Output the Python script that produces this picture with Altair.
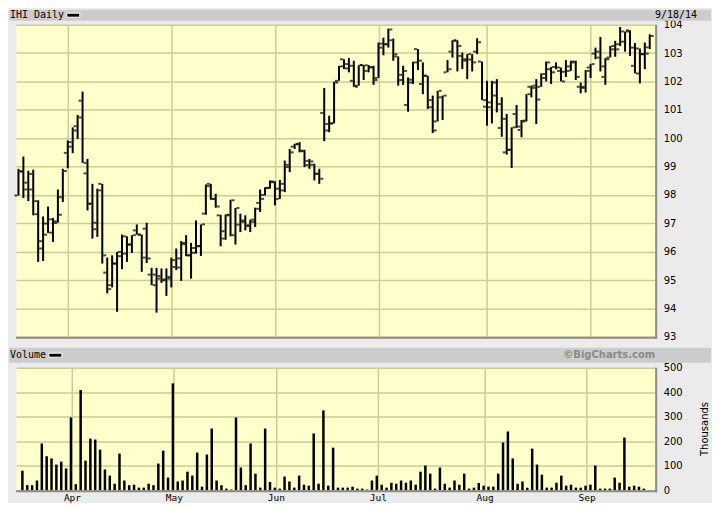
import altair as alt
import pandas as pd

# ---- data ----
opens = [97.98, 98.84, 98.19, 98.74, 97.78, 96.37, 96.99, 97.14, 97.07, 97.92,
         99.48, 99.86, 100.42, 101.32, 98.76, 97.69, 96.79, 98.39, 95.26, 94.82,
         95.58, 95.99, 95.93, 96.25, 96.75, 96.60, 96.81, 95.19, 95.19, 95.05,
         94.99, 95.11, 95.70, 95.44, 96.31, 95.87, 95.96, 96.19, 97.34, 98.39,
         97.86, 97.28, 96.72, 97.28, 96.58, 96.95, 97.10, 96.93, 97.13, 97.72,
         98.00, 98.24, 98.47, 97.86, 98.16, 98.98, 99.70, 99.78, 99.56, 99.20,
         99.06, 98.74, 100.89, 100.50, 100.52, 102.02, 102.78, 102.61, 102.02, 101.85,
         102.58, 102.37, 102.49, 102.12, 103.19, 103.31, 103.45, 102.88, 102.23, 101.17,
         101.96, 103.14, 101.91, 102.20, 101.09, 100.59, 101.44, 102.32, 103.05, 103.45,
         102.90, 102.73, 102.96, 103.05, 102.70, 101.11, 101.26, 101.50, 100.36, 99.50,
         99.59, 100.85, 100.29, 100.59, 101.81, 101.85, 101.81, 102.12, 102.43, 102.51,
         102.37, 102.34, 102.53, 102.70, 101.81, 101.77, 102.49, 102.98, 103.05, 102.16,
         102.84, 103.13, 103.31, 103.40, 103.80, 102.55, 103.16, 102.96, 103.20]
highs = [98.92, 99.35, 98.85, 98.89, 97.81, 97.24, 97.59, 97.19, 98.19, 98.92,
         99.92, 100.38, 100.82, 101.64, 99.27, 98.39, 98.22, 98.39, 95.79, 95.87,
         95.99, 96.60, 96.54, 96.58, 96.96, 96.60, 97.02, 95.43, 95.43, 95.41,
         95.41, 95.79, 96.11, 96.37, 96.58, 96.31, 97.10, 96.96, 98.37, 98.39,
         98.04, 97.30, 97.31, 97.83, 97.54, 97.34, 97.28, 97.13, 97.55, 98.19,
         98.27, 98.51, 98.48, 98.53, 99.21, 99.62, 99.80, 99.86, 99.59, 99.27,
         99.10, 98.92, 101.77, 100.79, 101.99, 102.55, 102.78, 102.82, 102.73, 102.57,
         102.58, 102.58, 102.55, 103.37, 103.54, 103.86, 103.51, 102.88, 102.55, 102.14,
         102.69, 103.14, 102.67, 102.20, 101.50, 101.67, 101.50, 102.75, 103.45, 103.45,
         103.02, 102.96, 102.96, 103.52, 102.70, 102.02, 102.02, 102.08, 101.44, 100.85,
         100.38, 101.17, 100.64, 101.55, 101.85, 102.08, 102.28, 102.70, 102.51, 102.67,
         102.49, 102.75, 102.73, 102.73, 101.96, 102.40, 102.61, 103.19, 103.57, 102.82,
         103.25, 103.43, 103.92, 103.76, 103.80, 103.35, 103.16, 103.37, 103.66]
lows = [97.98, 97.89, 97.78, 97.28, 95.64, 95.67, 96.66, 96.34, 97.02, 97.75,
        98.94, 99.47, 99.97, 99.13, 97.45, 96.46, 96.52, 95.58, 94.53, 94.74,
        93.88, 95.38, 95.64, 95.95, 96.60, 95.29, 95.60, 94.82, 93.85, 94.90,
        94.44, 94.74, 95.35, 94.97, 95.84, 95.05, 95.93, 95.85, 97.30, 97.83,
        97.55, 96.19, 96.42, 96.54, 96.25, 96.69, 96.75, 96.69, 96.87, 97.40,
        97.98, 98.22, 97.63, 97.86, 98.10, 98.80, 99.62, 99.50, 98.98, 98.92,
        98.51, 98.39, 99.89, 100.21, 100.52, 102.02, 102.43, 102.32, 101.81, 101.85,
        102.05, 102.32, 101.88, 102.12, 102.92, 103.19, 102.73, 101.85, 101.87, 100.93,
        101.91, 102.40, 101.55, 101.03, 100.18, 100.59, 100.64, 102.32, 102.84, 102.35,
        102.43, 102.08, 102.35, 102.96, 101.34, 100.44, 100.52, 100.91, 100.05, 99.42,
        98.95, 100.36, 100.03, 100.59, 101.44, 100.50, 101.81, 102.00, 101.91, 102.43,
        102.00, 102.16, 102.37, 102.05, 101.58, 101.61, 102.12, 102.78, 102.35, 101.88,
        102.84, 102.87, 103.25, 103.05, 102.90, 102.28, 101.93, 102.43, 103.14]
closes = [98.82, 98.43, 98.19, 97.32, 96.11, 96.60, 96.67, 97.01, 97.30, 98.84,
          99.70, 100.27, 100.73, 99.13, 97.69, 97.02, 98.16, 95.87, 94.68, 95.58,
          95.84, 96.54, 96.25, 96.58, 96.60, 95.79, 95.76, 94.82, 95.14, 95.02,
          95.05, 95.46, 95.76, 96.26, 95.87, 96.13, 96.20, 96.96, 98.31, 97.86,
          97.59, 96.46, 97.30, 97.81, 97.54, 97.05, 96.90, 97.05, 97.51, 97.86,
          98.25, 98.45, 98.22, 98.39, 99.06, 99.50, 99.80, 99.54, 99.05, 99.18,
          98.75, 98.57, 100.27, 100.52, 101.96, 102.53, 102.46, 102.55, 101.81, 102.57,
          102.57, 102.51, 102.05, 103.33, 103.31, 103.83, 102.96, 102.05, 102.37, 102.06,
          102.67, 102.73, 102.20, 101.34, 100.27, 101.67, 101.50, 102.43, 103.43, 103.25,
          102.78, 102.77, 102.67, 103.38, 101.34, 101.09, 101.96, 101.20, 100.68, 99.59,
          100.38, 100.41, 100.62, 101.55, 101.77, 101.36, 102.26, 102.67, 102.32, 102.49,
          102.00, 102.37, 102.67, 102.16, 101.81, 102.37, 102.61, 102.84, 102.53, 102.78,
          103.25, 103.13, 103.76, 103.76, 103.19, 102.28, 102.96, 102.98, 103.60]
volumes = [80, 21, 21, 40, 191, 139, 130, 105, 117, 89,
           297, 25, 409, 121, 211, 207, 166, 85, 60, 27,
           150, 40, 21, 23, 11, 11, 27, 21, 109, 162,
           52, 436, 36, 40, 76, 60, 154, 15, 146, 252,
           40, 21, 7, 3, 297, 93, 21, 191, 68, 11,
           252, 34, 11, 7, 56, 36, 11, 60, 23, 19,
           232, 27, 326, 19, 174, 11, 11, 11, 15, 7,
           7, 3, 40, 60, 23, 11, 31, 27, 40, 31,
           40, 23, 76, 101, 68, 7, 93, 27, 11, 40,
           23, 68, 7, 11, 30, 19, 15, 15, 68, 195,
           240, 130, 27, 36, 11, 170, 105, 64, 11, 11,
           31, 60, 19, 23, 11, 11, 19, 23, 101, 7,
           7, 7, 52, 31, 215, 15, 19, 15, 7]

month_idx = [10, 31, 52, 73, 95, 116]
month_names = ["Apr", "May", "Jun", "Jul", "Aug", "Sep"]
price_ticks = [93, 94, 95, 96, 97, 98, 99, 100, 101, 102, 103, 104]
vol_ticks = [0, 100, 200, 300, 400, 500]

# ---- layout ----
W = 641
HP = 313
HV = 123
RIGHT = W + 56          # right edge of the gray frame (keeps page inside 704px)
BG = "#ebebeb"
BAND = "#cccccc"
MONO = "DejaVu Sans Mono"
SANS = "DejaVu Sans"

df = pd.DataFrame({
    "i": list(range(len(opens))),
    "open": opens, "high": highs, "low": lows, "close": closes, "vol": volumes,
})
one = pd.DataFrame({"a": [0]})

xscale = alt.Scale(domain=[-0.5, 129.1], nice=False, zero=False)
pscale = alt.Scale(domain=[93, 104], nice=False, zero=False)
label_expr = " : ".join(
    f"datum.value == {v} ? '{n}'" for v, n in zip(month_idx, month_names)
) + " : ''"

grid_axis_x = alt.Axis(values=month_idx, labels=False, ticks=False, domain=False,
                       grid=True, title=None)
price_axis = alt.Axis(orient="right", values=price_ticks, ticks=False, domain=False,
                      grid=True, title=None, labelFont=SANS, labelFontSize=10,
                      labelColor="black", labelPadding=8, labelOverlap=False,
                      labelBound=False, labelFlush=False, tickCount=12)

# ---------- price panel ----------
band1 = alt.Chart(one).mark_rect(color=BAND).encode(
    x=alt.value(-7), x2=alt.value(RIGHT), y=alt.value(-15), y2=alt.value(-4))
title_txt = alt.Chart(one).mark_text(text="IHI Daily", align="left", baseline="middle",
                                     font=MONO, fontSize=10, color="black").encode(
    x=alt.value(-6), y=alt.value(-9.5))
swatch1 = alt.Chart(one).mark_rect(color="black", stroke="white", strokeWidth=1).encode(
    x=alt.value(51), x2=alt.value(64), y=alt.value(-11.5), y2=alt.value(-7.5))
date_txt = alt.Chart(one).mark_text(text="9/18/14", align="right", baseline="middle",
                                    font=MONO, fontSize=10, color="black").encode(
    x=alt.value(W + 42), y=alt.value(-9.5))

hl = alt.Chart(df).mark_rule(color="black", strokeWidth=2).encode(
    x=alt.X("i:Q", scale=xscale, axis=grid_axis_x),
    y=alt.Y("low:Q", scale=pscale, axis=price_axis),
    y2="high:Q",
)
open_t = alt.Chart(df).mark_tick(color="black", orient="horizontal", size=3,
                                 thickness=2, xOffset=-2.5).encode(
    x=alt.X("i:Q", scale=xscale, axis=grid_axis_x),
    y=alt.Y("open:Q", scale=pscale, axis=price_axis))
close_t = alt.Chart(df).mark_tick(color="black", orient="horizontal", size=3,
                                  thickness=2, xOffset=2.5).encode(
    x=alt.X("i:Q", scale=xscale, axis=grid_axis_x),
    y=alt.Y("close:Q", scale=pscale, axis=price_axis))

edge_b1 = alt.Chart(one).mark_rule(color="#8c8c8c", strokeWidth=2).encode(
    x=alt.value(0), x2=alt.value(W + 2), y=alt.value(HP + 1))
edge_r1 = alt.Chart(one).mark_rule(color="#8c8c8c", strokeWidth=2).encode(
    x=alt.value(W + 1), y=alt.value(0), y2=alt.value(HP + 2))

price = alt.layer(band1, hl, open_t, close_t, edge_b1, edge_r1,
                  title_txt, swatch1, date_txt).properties(width=W, height=HP)

# ---------- volume panel ----------
band2 = alt.Chart(one).mark_rect(color=BAND).encode(
    x=alt.value(-7), x2=alt.value(RIGHT), y=alt.value(-20), y2=alt.value(-5))
vol_txt = alt.Chart(one).mark_text(text="Volume", align="left", baseline="middle",
                                   font=MONO, fontSize=10, color="black").encode(
    x=alt.value(-6), y=alt.value(-12.5))
swatch2 = alt.Chart(one).mark_rect(color="black", stroke="white", strokeWidth=1).encode(
    x=alt.value(33), x2=alt.value(46), y=alt.value(-14.5), y2=alt.value(-10.5))
credit = alt.Chart(one).mark_text(text="\u00a9BigCharts.com", align="right",
                                  baseline="middle", font=SANS, fontSize=10,
                                  fontWeight="bold", color="#8a8a8a").encode(
    x=alt.value(W), y=alt.value(-12.5))
thousands = alt.Chart(one).mark_text(text="Thousands", angle=270, align="center",
                                     baseline="middle", font=SANS, fontSize=10,
                                     color="black").encode(
    x=alt.value(W + 50), y=alt.value(HV / 2))

vbars = alt.Chart(df).mark_bar(color="black", size=2.5, xOffset=-1).encode(
    x=alt.X("i:Q", scale=xscale,
            axis=alt.Axis(values=month_idx, labelExpr=label_expr, ticks=False,
                          domain=False, grid=True, title=None, labelFont=MONO,
                          labelFontSize=9.5, labelColor="black", labelPadding=2,
                          labelAngle=0)),
    y=alt.Y("vol:Q", scale=alt.Scale(domain=[0, 500], nice=False),
            axis=alt.Axis(orient="right", values=vol_ticks, ticks=False, domain=False,
                          grid=True, title=None, labelFont=SANS, labelFontSize=10,
                          labelColor="black", labelPadding=8, labelOverlap=False,
                          labelBound=False, labelFlush=False)),
)
edge_b2 = alt.Chart(one).mark_rule(color="#8c8c8c", strokeWidth=2).encode(
    x=alt.value(0), x2=alt.value(W + 2), y=alt.value(HV + 1))
edge_r2 = alt.Chart(one).mark_rule(color="#8c8c8c", strokeWidth=2).encode(
    x=alt.value(W + 1), y=alt.value(0), y2=alt.value(HV + 2))

volume = alt.layer(band2, vbars, edge_b2, edge_r2, vol_txt, swatch2, credit,
                   thousands).properties(width=W, height=HV)

chart = alt.vconcat(price, volume, spacing=31, bounds="flush").properties(
    background=BG, padding=0
).configure_view(
    fill="#ffffcc", stroke="transparent"
).configure_axis(
    gridColor="#cccc99", gridWidth=1.5, gridOpacity=1
)

chart.save("out.html", embed_options={"renderer": "svg", "actions": False})
